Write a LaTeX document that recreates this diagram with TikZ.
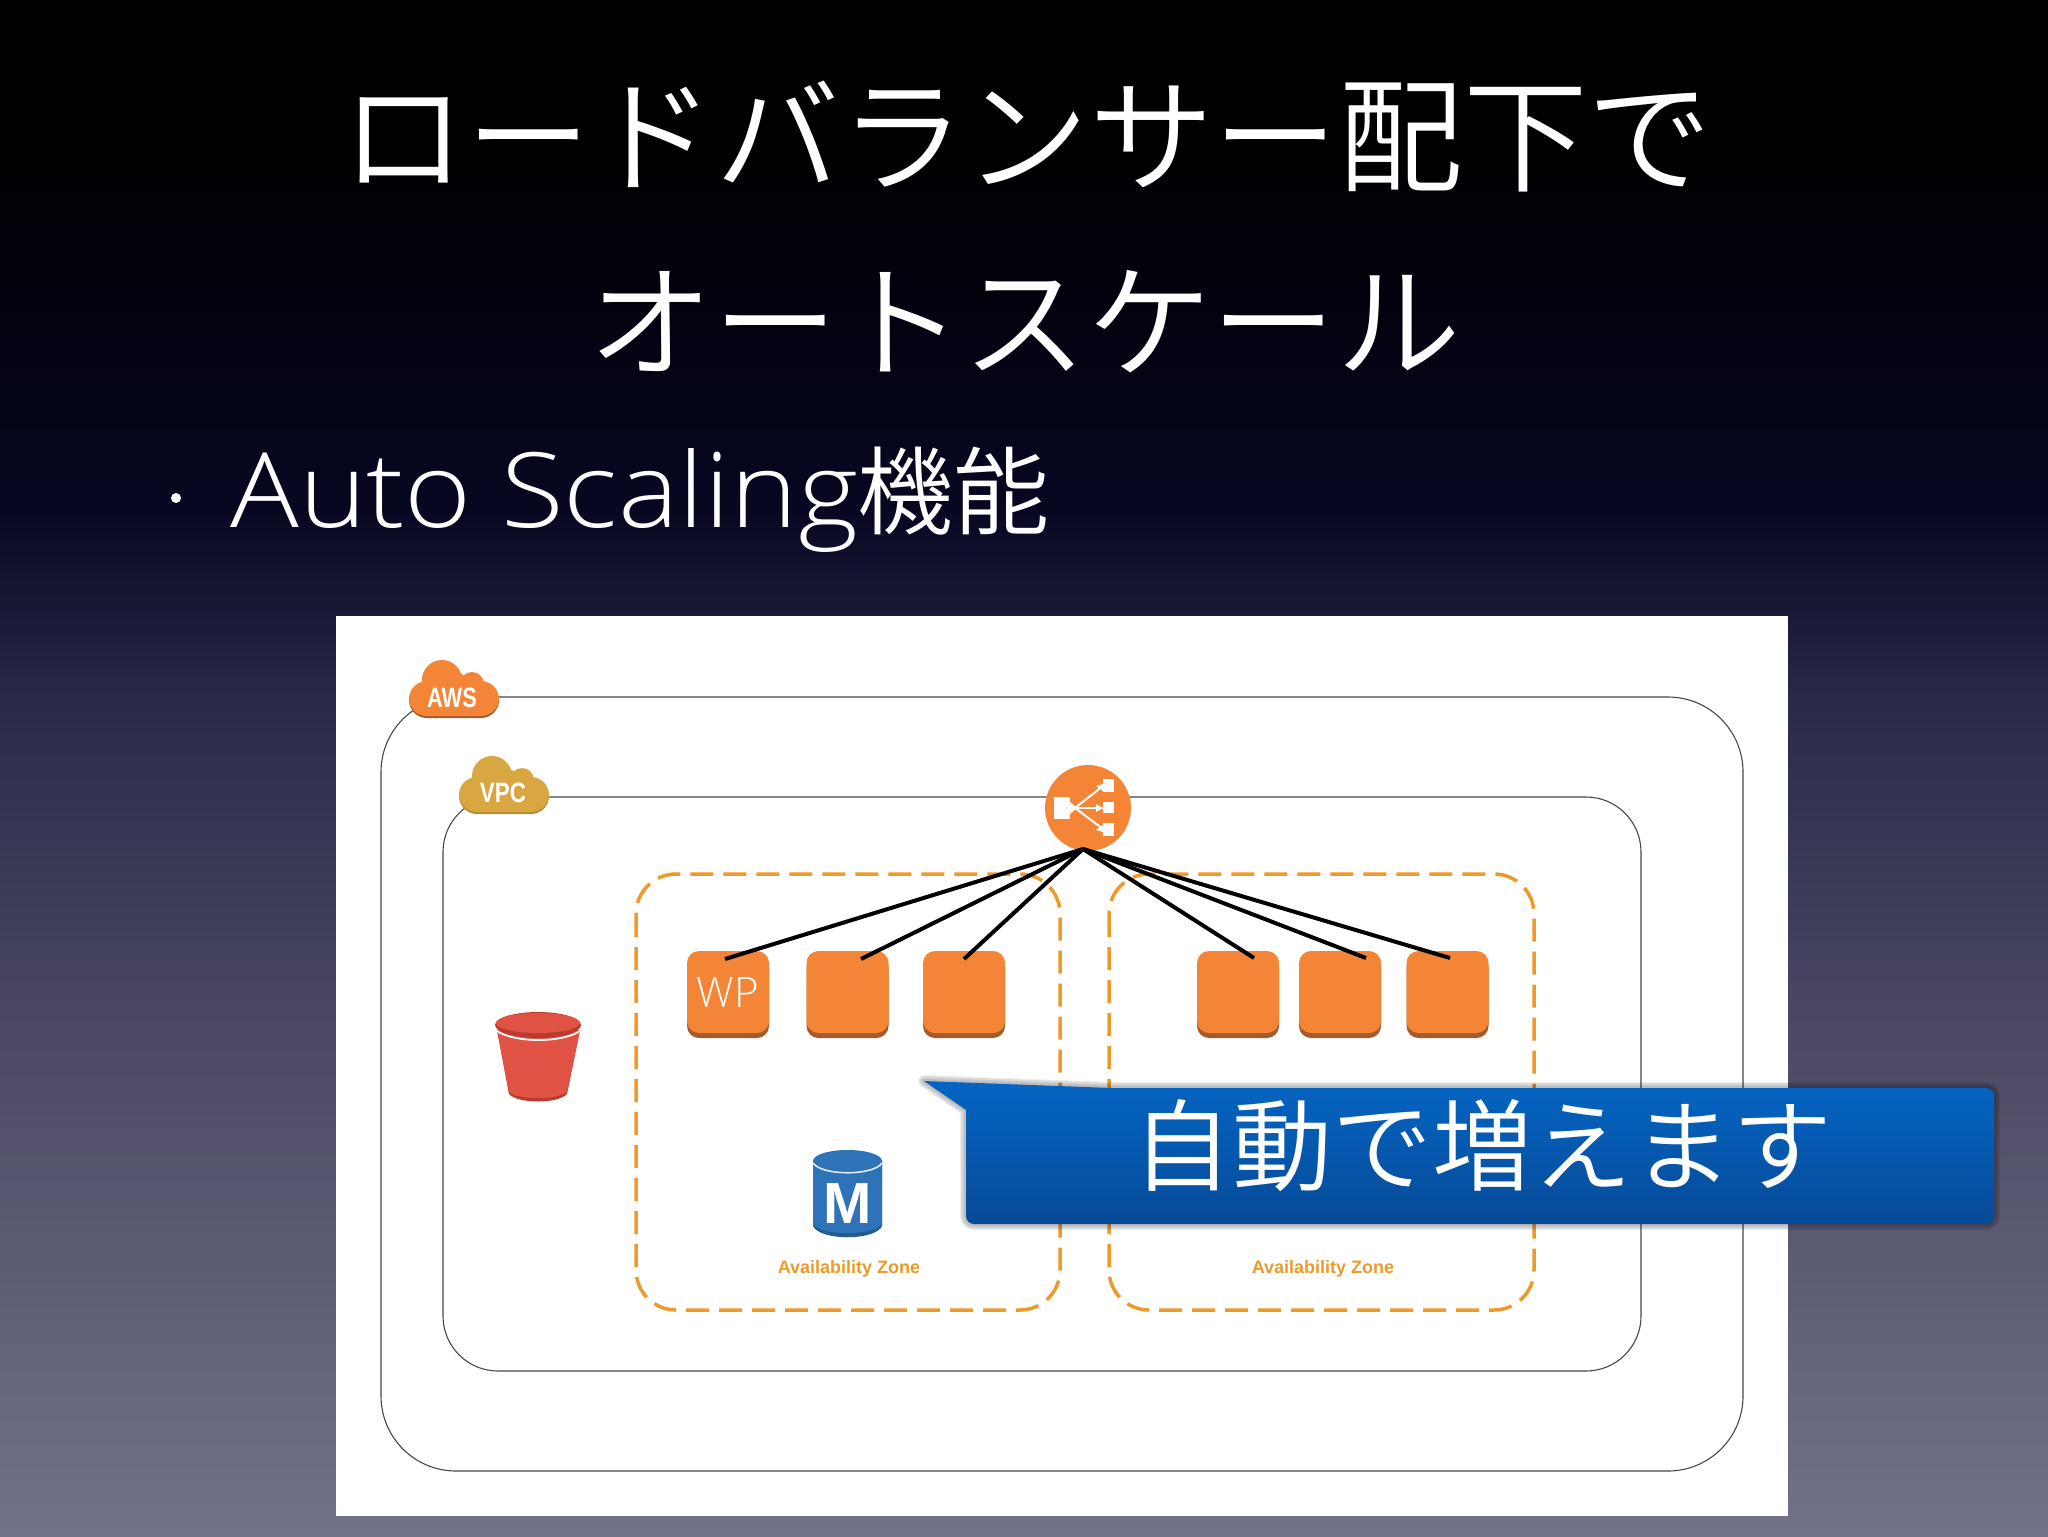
\documentclass[tikz,border=0pt]{standalone}
\usepackage{graphicx}
\usepackage{fontspec}
\setmainfont{Liberation Sans}
\newfontfamily\jpfont{Noto Sans CJK JP DemiLight}
\newfontfamily\lightfont{Open Sans Light}
\definecolor{bgA}{HTML}{000000}
\definecolor{bgB}{HTML}{02020F}
\definecolor{bgC}{HTML}{070722}
\definecolor{bgD}{HTML}{2A2A4A}
\definecolor{bgE}{HTML}{4C4A64}
\definecolor{bgF}{HTML}{72728A}
\definecolor{instfill}{HTML}{F58536}
\definecolor{instdark}{HTML}{A65A2C}
\definecolor{vpcfill}{HTML}{D9A741}
\definecolor{vpcdark}{HTML}{B58A35}
\definecolor{azline}{HTML}{EE9A2A}
\definecolor{boxline}{HTML}{484848}
\definecolor{buckfill}{HTML}{E05243}
\definecolor{buckdark}{HTML}{B83C30}
\definecolor{dbfill}{HTML}{2E73B8}
\definecolor{dbdark}{HTML}{235A94}
\definecolor{calltop}{HTML}{0565C2}
\definecolor{callbot}{HTML}{064A98}
\pgfdeclareverticalshading{bgshade}{100bp}{color(0bp)=(bgF); color(25bp)=(bgF); color(41bp)=(bgE); color(52bp)=(bgD); color(58.5bp)=(bgC); color(65bp)=(bgB); color(71bp)=(bgA); color(100bp)=(bgA)}
\tikzset{
  x=0.5pt, y=-0.5pt,
  awsbox/.style={draw=boxline, line width=0.55pt, fill=white},
  azbox/.style={draw=azline, line width=1.75pt, dash pattern=on 11.5pt off 5pt, rounded corners=20pt},
  inst/.style={fill=instfill, rounded corners=6pt, minimum width=41pt, minimum height=41pt, inner sep=0pt, text=white, font=\lightfont\fontsize{21}{21}\selectfont,
    preaction={fill=instdark, draw=none, transform canvas={yshift=-2.5pt}}},
  lbline/.style={black, line width=2pt},
  azlabel/.style={text=azline, font=\bfseries\fontsize{9}{9}\selectfont, inner sep=0pt},
  jptitle/.style={text=white, inner sep=0pt, font=\jpfont\fontsize{62.3}{62.3}\selectfont},
  pics/cloudicon/.style 2 args={code={
    \foreach \dy/\col in {2/#2,0/#1}{
      \fill[\col] (33,21+\dy) circle[radius=20];
      \fill[\col] (63,25+\dy) circle[radius=12];
      \fill[\col] (48,26+\dy) circle[radius=12];
      \fill[\col, rounded corners=9pt] (0,22+\dy) rectangle (90,57+\dy);
    }
  }},
}
\def\callpath{(924,1081) -- (1112,1088) [rounded corners=4pt] -- (1994,1088) -- (1994,1224) -- (966,1224) [sharp corners] -- (966,1110) -- cycle}
\begin{document}
\begin{tikzpicture}
\useasboundingbox (0,0) rectangle (2048,1536);
\path[shading=bgshade] (0,0) rectangle (2048,1536);

% titles
\node[jptitle] (title1) at (1027,137) {ロードバランサー配下で};
\node[jptitle] (title2) at (1025,322) {オートスケール};
\fill[white] (176,498) circle[radius=5];
\node[anchor=base west, text=white, inner sep=0pt, font=\lightfont\fontsize{52}{52}\selectfont] (sub) at (230,527) {\scalebox{1.1}[1]{Auto Scaling}{\jpfont\fontsize{48}{48}\selectfont 機能}};

% panel and boxes
\fill[white] (336,616) rectangle (1788,1516);
\draw[awsbox, rounded corners=37.5pt] (381,697) rectangle (1743,1471);
\draw[awsbox, rounded corners=27.5pt] (443,797) rectangle (1641,1371);
\draw[azbox] (636,874) rectangle (1060,1310);
\draw[azbox] (1109,874) rectangle (1534,1310);

% clouds
\pic at (409,659) {cloudicon={instfill}{instdark}};
\pic at (459,755) {cloudicon={vpcfill}{vpcdark}};
\node[text=white, inner sep=0pt, font=\bfseries\fontsize{14}{14}\selectfont] (awstext) at (452,698) {\scalebox{0.78}[1]{AWS}};
\node[text=white, inner sep=0pt, font=\bfseries\fontsize{14}{14}\selectfont] (vpctext) at (503,793) {\scalebox{0.8}[1]{VPC}};

% load balancer
\node[circle, fill=instfill, minimum size=43pt, inner sep=0pt] (lb) at (1088,808) {};
\begin{scope}[white]
  \fill (1054,797) rectangle (1070,819);
  \fill (1070,802) -- (1077,808) -- (1070,814) -- cycle;
  \fill (1103,779) rectangle (1114,792);
  \fill (1103,802) rectangle (1114,813);
  \fill (1103,823) rectangle (1114,836);
  \draw[line width=1pt] (1075,808) -- (1103,786);
  \draw[line width=1pt] (1075,808) -- (1103,808);
  \draw[line width=1pt] (1075,808) -- (1103,829);
  \fill (1096,786) -- (1103,784) -- (1103,791) -- cycle;
  \fill (1096,804) -- (1103,808) -- (1096,812) -- cycle;
  \fill (1096,830) -- (1103,825) -- (1103,832) -- cycle;
\end{scope}
\coordinate (apex) at (1083,849);

% instances
\node[inst] (w1) at (728,992) {\raisebox{-1.2pt}{WP}};
\node[inst] (w2) at (847.5,992) {};
\node[inst] (w3) at (964,992) {};
\node[inst] (e1) at (1238,992) {};
\node[inst] (e2) at (1340,992) {};
\node[inst] (e3) at (1447.5,992) {};
\coordinate (tw1) at (725,959);
\coordinate (tw2) at (861,959);
\coordinate (tw3) at (964,959);
\coordinate (te1) at (1254,958);
\coordinate (te2) at (1366,958);
\coordinate (te3) at (1450,958);
\foreach \t in {tw1,tw2,tw3,te1,te2,te3}{\draw[lbline] (apex) -- (\t);}

% bucket
\fill[buckdark] (497,1030) -- (509,1094) .. controls (518,1104) and (558,1104) .. (567,1094) -- (580,1030) -- cycle;
\fill[buckfill] (497,1030) -- (509,1092) .. controls (518,1100) and (558,1100) .. (567,1092) -- (580,1030) -- cycle;
\draw[white, line width=0.9pt] (497,1031) .. controls (515,1043) and (562,1043) .. (580,1031);
\fill[buckdark] (538,1025) ellipse[x radius=43, y radius=13];
\fill[buckfill] (538,1023) ellipse[x radius=42, y radius=10];

% database
\fill[dbdark] (813,1160) -- (813,1226) .. controls (820,1241) and (875,1241) .. (882,1226) -- (882,1160) -- cycle;
\fill[dbfill] (813,1160) -- (813,1224) .. controls (820,1236) and (875,1236) .. (882,1224) -- (882,1160) -- cycle;
\fill[dbfill] (847.5,1161) ellipse[x radius=34.5, y radius=11];
\draw[white!85!dbfill, line width=0.8pt] (813,1163) .. controls (822,1176) and (873,1176) .. (882,1163);
\node[text=white, inner sep=0pt, font=\bfseries\fontsize{29}{29}\selectfont] (mtext) at (848,1204) {M};

% AZ labels
\node[azlabel] (az1) at (849,1269) {Availability Zone};
\node[azlabel] (az2) at (1323,1269) {Availability Zone};

% callout
\foreach \w in {12,10,7,4}{\draw[black, opacity=0.07, line width=\w*0.5pt, line join=round] \callpath;}
\shade[top color=calltop, bottom color=callbot, middle color=calltop!50!callbot] \callpath;
\node[text=white, inner sep=0pt, font=\jpfont\fontsize{50}{50}\selectfont] (calltext) at (1482,1146) {自動で増えます};
\end{tikzpicture}
\end{document}
